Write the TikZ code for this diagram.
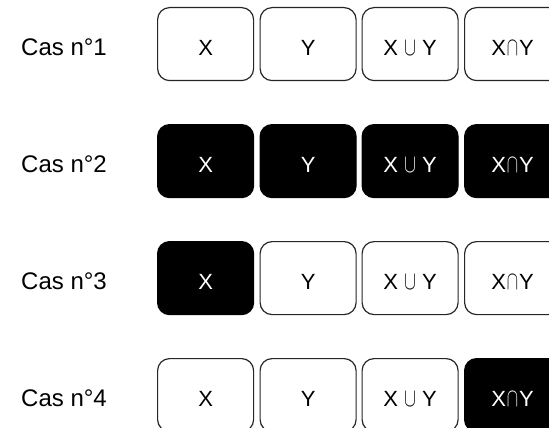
\documentclass[tikz,border=0pt]{standalone}
\usepackage{graphicx}
\usepackage{fontspec}
\setmainfont{Liberation Sans}
\tikzset{
  cell/.style={draw=black!85, line width=1.2pt, rounded corners=12pt, minimum width=96pt, minimum height=73pt, inner sep=0pt, anchor=north west},
  off/.style={cell, fill=white},
  on/.style={cell, fill=black, draw=black},
  txt/.style={font=\fontsize{22}{22}\selectfont, text=black, inner sep=0pt, yshift=-4pt},
  wtxt/.style={txt, text=white},
  caslabel/.style={font=\fontsize{24}{24}\selectfont, anchor=west, inner sep=0pt}
}
\newcommand{\symU}{\raisebox{-0.5pt}{\scalebox{0.72}[1.05]{\fontsize{30}{30}\selectfont$\cup$}}}
\newcommand{\symN}{\raisebox{-0.5pt}{\scalebox{0.68}[1.05]{\fontsize{30}{30}\selectfont$\cap$}}}
\newcommand{\uni}{X\hspace{6pt}\symU\hspace{6pt}Y}
\newcommand{\inter}{X\hspace{1pt}\symN\hspace{1pt}Y}
\begin{document}
\begin{tikzpicture}[x=1pt,y=-1pt]
\useasboundingbox (0,0) rectangle (549,428);
\clip (0,0) rectangle (549,428);
% row 1
\node[caslabel] (l1) at (21,47.5) {Cas n°1};
\node[off, label={[txt]center:X}] (a1) at (157,7) {};
\node[off, label={[txt]center:Y}] (b1) at (259.5,7) {};
\node[off, label={[txt]center:\uni}] (c1) at (361.5,7) {};
\node[off, label={[txt]center:\inter}] (d1) at (464,7) {};
% row 2
\node[caslabel] (l2) at (21,164.5) {Cas n°2};
\node[on, label={[wtxt]center:X}] (a2) at (157,124) {};
\node[on, label={[wtxt]center:Y}] (b2) at (259.5,124) {};
\node[on, label={[wtxt]center:\uni}] (c2) at (361.5,124) {};
\node[on, label={[wtxt]center:\inter}] (d2) at (464,124) {};
% row 3
\node[caslabel] (l3) at (21,281.5) {Cas n°3};
\node[on, label={[wtxt]center:X}] (a3) at (157,241) {};
\node[off, label={[txt]center:Y}] (b3) at (259.5,241) {};
\node[off, label={[txt]center:\uni}] (c3) at (361.5,241) {};
\node[off, label={[txt]center:\inter}] (d3) at (464,241) {};
% row 4
\node[caslabel] (l4) at (21,398.5) {Cas n°4};
\node[off, label={[txt]center:X}] (a4) at (157,358) {};
\node[off, label={[txt]center:Y}] (b4) at (259.5,358) {};
\node[off, label={[txt]center:\uni}] (c4) at (361.5,358) {};
\node[on, label={[wtxt]center:\inter}] (d4) at (464,358) {};
\end{tikzpicture}
\end{document}
